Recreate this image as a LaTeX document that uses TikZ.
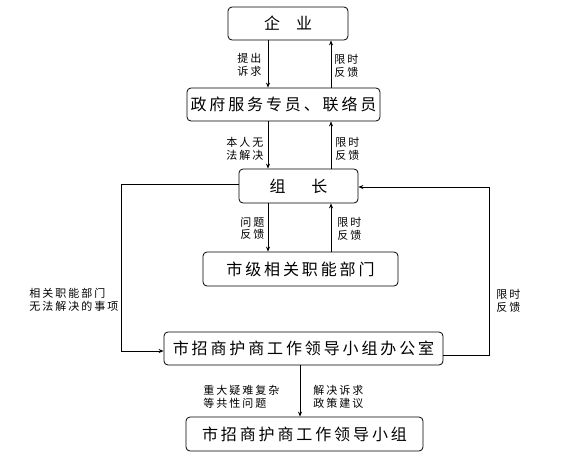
\documentclass[tikz,border=0pt]{standalone}
\usepackage{fontspec}
\newfontfamily\cjk[LetterSpace=18]{Noto Sans CJK SC}
\usetikzlibrary{arrows.meta, positioning}

\begin{document}
\begin{tikzpicture}[x=1pt, y=-1pt,
  box/.style={draw, rounded corners=4pt, inner sep=0pt, minimum height=33pt,
    font=\cjk\fontsize{16}{18}\selectfont},
  lbl/.style={anchor=north west, inner sep=0pt, align=left,
    font=\cjk\fontsize{11}{12.5}\selectfont},
  arr/.style={-{Stealth[length=5pt,width=4pt]}},
  line width=0.8pt]

  \useasboundingbox (0,0) rectangle (565,471);

  \node[box, minimum width=120pt] (qiye) at (288,23.5) {企\hspace{1em}业};
  \node[box, minimum width=193pt] (zhuanyuan) at (283.5,104.5) {政府服务专员、联络员};
  \node[box, minimum width=119pt, minimum height=34pt] (zuzhang) at (298.5,186) {组\hspace{1.6em}长};
  \node[box, minimum width=195pt, minimum height=34pt] (bumen) at (300.5,269) {市级相关职能部门};
  \node[box, minimum width=279pt] (bangongshi) at (303.5,348.5) {市招商护商工作领导小组办公室};
  \node[box, minimum width=237pt, minimum height=34pt] (xiaozu) at (304.5,434) {市招商护商工作领导小组};

  \coordinate (down) at (268,0);
  \coordinate (up) at (331,0);
  \coordinate (mid) at (300,0);
  \coordinate (lft) at (121,0);
  \coordinate (rgt) at (489,0);
  \coordinate (zw) at ([yshift=2pt]zuzhang.west);
  \coordinate (ze) at ([yshift=-1pt]zuzhang.east);
  \coordinate (bw) at ([yshift=-2.5pt]bangongshi.west);
  \coordinate (be) at ([yshift=-6.5pt]bangongshi.east);

  \draw[arr] (down |- qiye.south) -- (down |- zhuanyuan.north);
  \draw[arr] (up |- zhuanyuan.north) -- (up |- qiye.south);
  \draw[arr] (down |- zhuanyuan.south) -- (down |- zuzhang.north);
  \draw[arr] (up |- zuzhang.north) -- (up |- zhuanyuan.south);
  \draw[arr] (down |- zuzhang.south) -- (down |- bumen.north);
  \draw[arr] (up |- bumen.north) -- (up |- zuzhang.south);
  \draw[arr] (mid |- bangongshi.south) -- (mid |- xiaozu.north);

  \draw[arr] (zw) -- (lft |- zw) -- (lft |- bw) -- (bw);
  \draw[arr] (be) -- (rgt |- be) -- (rgt |- ze) -- (ze);

  \node[lbl] (l1) at (237,53) {提出\\诉求};
  \node[lbl] (r1) at (334,54) {限时\\反馈};
  \node[lbl] (l2) at (226,137) {本人无\\法解决};
  \node[lbl] (r2) at (335,137) {限时\\反馈};
  \node[lbl] (l3) at (240,217) {问题\\反馈};
  \node[lbl] (r3) at (337,217) {限时\\反馈};
  \node[lbl] (l4) at (29,288) {相关职能部门\\无法解决的事项};
  \node[lbl] (r4) at (496,289) {限时\\反馈};
  \node[lbl] (l5) at (203,385) {重大疑难复杂\\等共性问题};
  \node[lbl] (r5) at (313,385) {解决诉求\\政策建议};
\end{tikzpicture}
\end{document}
